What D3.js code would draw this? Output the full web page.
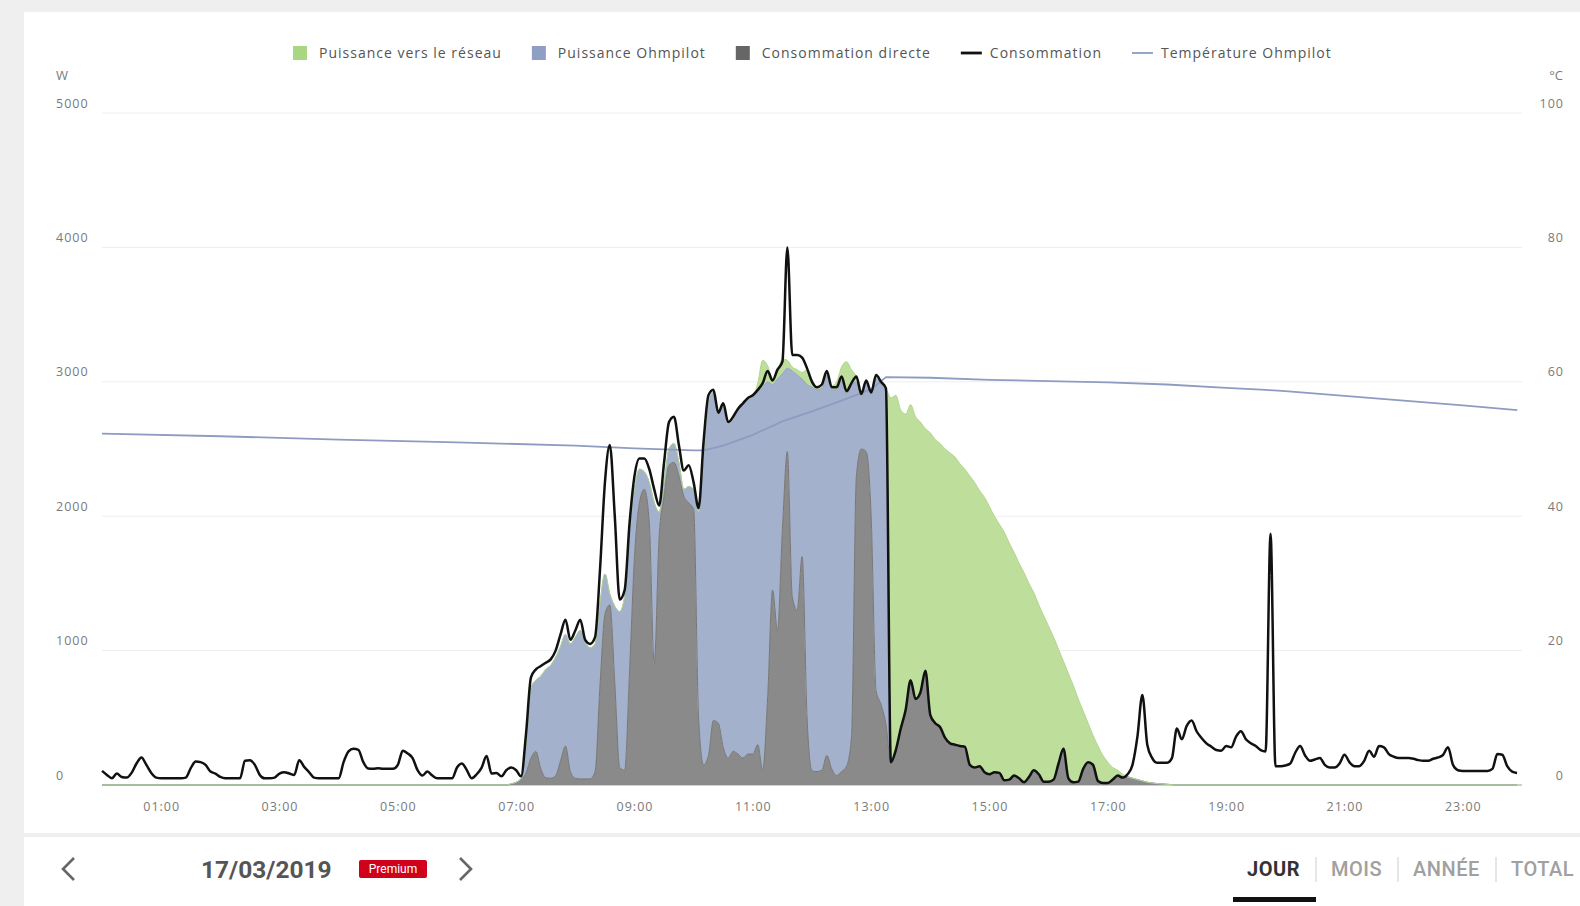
<!DOCTYPE html>
<html>
<head>
<meta charset="utf-8">
<script src="https://cdn.jsdelivr.net/npm/d3@7"></script>
<style>
  html, body { margin: 0; padding: 0; background: #efefef; }
  svg { display: block; font-family: Roboto, "Open Sans", "Liberation Sans", sans-serif; }
</style>
</head>
<body>
<svg id="chart" width="1580" height="906"></svg>
<script>
// ---- Data: 17/03/2019, one value every 5 minutes (00:00 ... 23:55), in W ----
const STEP_MINUTES = 5;

// Total household consumption (black line)
const consommation = [
  105, 75, 50, 85, 60, 55, 90, 160, 205, 150, 90, 55,
  50, 50, 50, 50, 50, 55, 125, 175, 170, 150, 100, 85,
  60, 50, 50, 50, 50, 180, 185, 150, 75, 50, 50, 55,
  85, 95, 85, 75, 185, 135, 95, 55, 50, 50, 50, 50,
  50, 170, 250, 270, 262, 170, 122, 120, 125, 120, 120, 120,
  150, 255, 235, 200, 110, 70, 100, 70, 50, 50, 50, 50,
  130, 160, 110, 50, 80, 130, 215, 85, 90, 65, 110, 130,
  110, 65, 380, 800, 860, 885, 910, 935, 1000, 1120, 1230, 1080,
  1150, 1230, 1080, 1050, 1100, 1600, 2250, 2530, 2000, 1380, 1450, 1950,
  2300, 2430, 2430, 2350, 2200, 2080, 2400, 2700, 2740, 2530, 2340, 2380,
  2250, 2060, 2550, 2900, 2940, 2770, 2840, 2700, 2740, 2800, 2840, 2880,
  2900, 2940, 2990, 3080, 3010, 3090, 3150, 4000, 3200, 3200, 3180, 3100,
  3000, 2960, 2980, 3080, 2960, 2960, 3040, 2930, 2990, 3040, 2910, 3010,
  2920, 3050, 3000, 2950, 170, 260, 420, 560, 780, 640, 690, 850,
  520, 460, 430, 350, 310, 300, 290, 285, 150, 130, 140, 95,
  80, 95, 90, 35, 40, 70, 50, 20, 60, 110, 80, 25,
  25, 40, 160, 270, 50, 20, 25, 120, 170, 150, 30, 15,
  15, 40, 70, 55, 80, 150, 360, 670, 300, 200, 165, 165,
  165, 200, 420, 340, 440, 480, 400, 350, 310, 285, 260, 255,
  290, 280, 360, 400, 340, 310, 290, 260, 250, 1870, 140, 140,
  145, 160, 240, 290, 220, 180, 190, 200, 150, 130, 130, 160,
  225, 170, 140, 140, 180, 255, 210, 290, 280, 230, 210, 200,
  200, 200, 195, 185, 180, 180, 195, 205, 225, 280, 150, 110,
  105, 105, 105, 105, 105, 105, 120, 230, 225, 140, 100, 90
];

// PV power used directly in the house (dark grey, bottom of the stack)
const consommationDirecte = [
  0, 0, 0, 0, 0, 0, 0, 0, 0, 0, 0, 0,
  0, 0, 0, 0, 0, 0, 0, 0, 0, 0, 0, 0,
  0, 0, 0, 0, 0, 0, 0, 0, 0, 0, 0, 0,
  0, 0, 0, 0, 0, 0, 0, 0, 0, 0, 0, 0,
  0, 0, 0, 0, 0, 0, 0, 0, 0, 0, 0, 0,
  0, 0, 0, 0, 0, 0, 0, 0, 0, 0, 0, 0,
  0, 0, 0, 0, 0, 0, 0, 0, 0, 0, 0, 5,
  20, 40, 90, 200, 250, 120, 55, 50, 70, 180, 290, 100,
  50, 45, 45, 45, 100, 740, 1270, 1340, 760, 130, 110, 850,
  1700, 2100, 2200, 1950, 900, 1850, 2150, 2380, 2400, 2300, 2150, 2100,
  2050, 500, 150, 220, 480, 460, 280, 200, 250, 230, 200, 230,
  230, 300, 110, 650, 1450, 1150, 1900, 2480, 1400, 1300, 1700, 500,
  105, 100, 110, 220, 120, 70, 100, 140, 350, 2300, 2500, 2480,
  2000, 700, 600, 450, 170, 260, 420, 560, 780, 640, 690, 850,
  520, 460, 430, 350, 310, 300, 290, 285, 150, 130, 140, 95,
  80, 95, 90, 35, 40, 70, 50, 20, 60, 110, 80, 25,
  25, 40, 160, 270, 50, 20, 25, 120, 170, 150, 30, 15,
  15, 40, 70, 55, 60, 50, 40, 30, 20, 15, 10, 8,
  5, 3, 0, 0, 0, 0, 0, 0, 0, 0, 0, 0,
  0, 0, 0, 0, 0, 0, 0, 0, 0, 0, 0, 0,
  0, 0, 0, 0, 0, 0, 0, 0, 0, 0, 0, 0,
  0, 0, 0, 0, 0, 0, 0, 0, 0, 0, 0, 0,
  0, 0, 0, 0, 0, 0, 0, 0, 0, 0, 0, 0,
  0, 0, 0, 0, 0, 0, 0, 0, 0, 0, 0, 0
];

// PV power sent to the Ohmpilot water heater (blue, middle of the stack)
const puissanceOhmpilot = [
  0, 0, 0, 0, 0, 0, 0, 0, 0, 0, 0, 0,
  0, 0, 0, 0, 0, 0, 0, 0, 0, 0, 0, 0,
  0, 0, 0, 0, 0, 0, 0, 0, 0, 0, 0, 0,
  0, 0, 0, 0, 0, 0, 0, 0, 0, 0, 0, 0,
  0, 0, 0, 0, 0, 0, 0, 0, 0, 0, 0, 0,
  0, 0, 0, 0, 0, 0, 0, 0, 0, 0, 0, 0,
  0, 0, 0, 0, 0, 0, 0, 0, 0, 0, 0, 5,
  0, 10, 210, 520, 530, 690, 805, 840, 880, 850, 830, 950,
  1050, 1105, 1015, 975, 950, 610, 300, 80, 570, 1160, 1290, 1050,
  500, 250, 130, 300, 1200, 180, 100, 120, 140, 100, 50, 120,
  150, 1530, 2300, 2630, 2440, 2300, 2540, 2490, 2480, 2560, 2630, 2640,
  2660, 2630, 2850, 2350, 1530, 1870, 1160, 620, 1680, 1750, 1320, 2480,
  2855, 2840, 2840, 2830, 2820, 2870, 2910, 2770, 2620, 700, 390, 510,
  900, 2320, 2380, 2470, 0, 0, 0, 0, 0, 0, 0, 0,
  0, 0, 0, 0, 0, 0, 0, 0, 0, 0, 0, 0,
  0, 0, 0, 0, 0, 0, 0, 0, 0, 0, 0, 0,
  0, 0, 0, 0, 0, 0, 0, 0, 0, 0, 0, 0,
  0, 0, 0, 0, 0, 0, 0, 0, 0, 0, 0, 0,
  0, 0, 0, 0, 0, 0, 0, 0, 0, 0, 0, 0,
  0, 0, 0, 0, 0, 0, 0, 0, 0, 0, 0, 0,
  0, 0, 0, 0, 0, 0, 0, 0, 0, 0, 0, 0,
  0, 0, 0, 0, 0, 0, 0, 0, 0, 0, 0, 0,
  0, 0, 0, 0, 0, 0, 0, 0, 0, 0, 0, 0,
  0, 0, 0, 0, 0, 0, 0, 0, 0, 0, 0, 0
];

// PV power fed into the grid (green, top of the stack)
const puissanceReseau = [
  0, 0, 0, 0, 0, 0, 0, 0, 0, 0, 0, 0,
  0, 0, 0, 0, 0, 0, 0, 0, 0, 0, 0, 0,
  0, 0, 0, 0, 0, 0, 0, 0, 0, 0, 0, 0,
  0, 0, 0, 0, 0, 0, 0, 0, 0, 0, 0, 0,
  0, 0, 0, 0, 0, 0, 0, 0, 0, 0, 0, 0,
  0, 0, 0, 0, 0, 0, 0, 0, 0, 0, 0, 0,
  0, 0, 0, 0, 0, 0, 0, 0, 0, 0, 0, 0,
  0, 0, 0, 0, 0, 0, 0, 0, 0, 0, 0, 0,
  0, 0, 0, 0, 0, 0, 0, 0, 0, 0, 0, 0,
  0, 0, 0, 0, 0, 0, 0, 0, 0, 0, 0, 0,
  0, 0, 0, 0, 0, 0, 0, 0, 0, 0, 0, 0,
  0, 60, 200, 120, 40, 60, 110, 60, 30, 40, 50, 110,
  60, 20, 20, 0, 30, 60, 100, 240, 120, 40, 40, 10,
  20, 20, 20, 30, 2710, 2640, 2370, 2200, 2050, 2100, 2010, 1800,
  2100, 2110, 2110, 2150, 2160, 2140, 2100, 2065, 2150, 2120, 2050, 2045,
  1990, 1905, 1850, 1845, 1760, 1660, 1600, 1560, 1440, 1320, 1260, 1235,
  1155, 1060, 850, 650, 780, 720, 615, 430, 290, 220, 260, 205,
  155, 90, 40, 25, 0, 0, 0, 0, 0, 0, 0, 0,
  0, 0, 0, 0, 0, 0, 0, 0, 0, 0, 0, 0,
  0, 0, 0, 0, 0, 0, 0, 0, 0, 0, 0, 0,
  0, 0, 0, 0, 0, 0, 0, 0, 0, 0, 0, 0,
  0, 0, 0, 0, 0, 0, 0, 0, 0, 0, 0, 0,
  0, 0, 0, 0, 0, 0, 0, 0, 0, 0, 0, 0,
  0, 0, 0, 0, 0, 0, 0, 0, 0, 0, 0, 0
];

// Ohmpilot water temperature (°C), hour of day -> value
const temperatureHours  = [0, 2, 4, 6, 8, 9, 10, 10.17, 10.5, 11, 11.5, 12, 12.5, 13, 13.25, 14, 15, 16, 17, 18, 19, 19.67, 20, 21, 22, 23, 23.92];
const temperatureValues = [52.3, 51.9, 51.4, 51.0, 50.5, 50.1, 49.8, 49.8, 50.5, 52.1, 54.1, 55.6, 57.2, 58.9, 60.7, 60.6, 60.3, 60.1, 59.9, 59.6, 59.1, 58.8, 58.6, 57.9, 57.2, 56.5, 55.8];

// Axis ticks
const powerTicks = [0, 1000, 2000, 3000, 4000, 5000];
const tempTicks = [0, 20, 40, 60, 80, 100];
const hourTicks = [1, 3, 5, 7, 9, 11, 13, 15, 17, 19, 21, 23];
const hourTickLabels = ['01:00', '03:00', '05:00', '07:00', '09:00', '11:00', '13:00', '15:00', '17:00', '19:00', '21:00', '23:00'];

// Legend
const legendItems = [
  { label: 'Puissance vers le réseau', type: 'square', color: '#a8d683' },
  { label: 'Puissance Ohmpilot', type: 'square', color: '#8f9fc4' },
  { label: 'Consommation directe', type: 'square', color: '#666666' },
  { label: 'Consommation', type: 'line', color: '#111111' },
  { label: 'Température Ohmpilot', type: 'line', color: '#8d9cc0' }
];

// Bottom navigation
const dateLabel = '17/03/2019';
const periodTabs = ['JOUR', 'MOIS', 'ANNÉE', 'TOTAL'];

// ---- Drawing ----
const WIDTH = 1580, HEIGHT = 906;
const svg = d3.select('#chart');
const LABEL_FONT = '"Open Sans", Roboto, sans-serif';

// page background and white cards
svg.append('rect').attr('width', WIDTH).attr('height', HEIGHT).attr('fill', '#efefef');
svg.append('rect').attr('x', 24).attr('y', 12).attr('width', WIDTH - 24).attr('height', 821).attr('fill', '#ffffff');
svg.append('rect').attr('x', 24).attr('y', 837).attr('width', WIDTH - 24).attr('height', HEIGHT - 837).attr('fill', '#ffffff');

const x = d3.scaleLinear().domain([0, 24]).range([102, 1522]);
const yPower = d3.scaleLinear().domain([0, 5000]).range([785, 113]);
const yTemp = d3.scaleLinear().domain([0, 100]).range([785, 113]);

// horizontal grid
svg.append('g').selectAll('line')
  .data(powerTicks)
  .join('line')
  .attr('x1', x(0)).attr('x2', x(24))
  .attr('y1', d => yPower(d)).attr('y2', d => yPower(d))
  .attr('stroke', d => d === 0 ? '#cfcfcf' : '#eeeeee')
  .attr('stroke-width', d => d === 0 ? 2 : 1);

// stacked production areas
const rows = consommation.map((c, i) => ({
  hour: i * STEP_MINUTES / 60,
  directe: consommationDirecte[i],
  ohmpilot: puissanceOhmpilot[i],
  reseau: puissanceReseau[i]
}));
const layers = d3.stack().keys(['directe', 'ohmpilot', 'reseau'])(rows);
const fills = { directe: '#8a8a8a', ohmpilot: '#a4b1cc', reseau: '#bedf9b' };
const edges = { directe: '#777777', ohmpilot: '#93a2c2', reseau: '#b1d68c' };

const area = d3.area()
  .x(d => x(d.data.hour))
  .y0(d => yPower(d[0]))
  .y1(d => yPower(d[1]))
  .curve(d3.curveMonotoneX);
const areaTop = d3.line()
  .x(d => x(d.data.hour))
  .y(d => yPower(d[1]))
  .curve(d3.curveMonotoneX);

const areaG = svg.append('g');
layers.slice().reverse().forEach(layer => {
  areaG.append('path').attr('d', area(layer)).attr('fill', fills[layer.key]);
});
layers.forEach(layer => {
  areaG.append('path').attr('d', areaTop(layer)).attr('fill', 'none')
    .attr('stroke', edges[layer.key]).attr('stroke-width', 1);
});

// temperature line
const tempLine = d3.line()
  .x((d, i) => x(temperatureHours[i]))
  .y(d => yTemp(d));
svg.append('path')
  .attr('d', tempLine(temperatureValues))
  .attr('fill', 'none')
  .attr('stroke', '#8d9cc0')
  .attr('stroke-width', 1.8);

// consumption line
const consLine = d3.line()
  .x((d, i) => x(i * STEP_MINUTES / 60))
  .y(d => yPower(d))
  .curve(d3.curveMonotoneX);
svg.append('path')
  .attr('d', consLine(consommation))
  .attr('fill', 'none')
  .attr('stroke', '#111111')
  .attr('stroke-width', 2.5)
  .attr('stroke-linejoin', 'round');

// axes (labels only)
const axisText = g => {
  g.select('.domain').remove();
  g.selectAll('text')
    .attr('fill', '#7a7a7a')
    .attr('font-family', LABEL_FONT)
    .attr('font-size', 12.5)
    .attr('letter-spacing', 1);
};
svg.append('g')
  .attr('transform', 'translate(56,-10)')
  .call(d3.axisRight(yPower).tickValues(powerTicks).tickSize(0).tickPadding(0).tickFormat(d3.format('d')))
  .call(axisText);
svg.append('g')
  .attr('transform', 'translate(1564,-10)')
  .call(d3.axisLeft(yTemp).tickValues(tempTicks).tickSize(0).tickPadding(0).tickFormat(d3.format('d')))
  .call(axisText);
svg.append('g')
  .attr('transform', 'translate(0,807)')
  .call(d3.axisBottom(x).tickValues(hourTicks).tickSize(0).tickPadding(0).tickFormat((d, i) => hourTickLabels[i]))
  .call(axisText)
  .call(g => g.selectAll('text').attr('dy', '0.32em'));

// unit labels
svg.append('text').attr('x', 56).attr('y', 75).attr('dy', '0.35em')
  .attr('font-family', LABEL_FONT).attr('fill', '#7a7a7a').attr('font-size', 13).text('W');
svg.append('text').attr('x', 1563).attr('y', 75).attr('dy', '0.35em').attr('text-anchor', 'end')
  .attr('font-family', LABEL_FONT).attr('fill', '#7a7a7a').attr('font-size', 13).text('°C');

// legend
const legend = svg.append('g')
  .attr('font-family', LABEL_FONT).attr('font-size', 14).attr('letter-spacing', 1);
let lx = 293;
const ly = 53;
legendItems.forEach(item => {
  if (item.type === 'square') {
    legend.append('rect').attr('x', lx).attr('y', ly - 7).attr('width', 14).attr('height', 14).attr('fill', item.color);
    lx += 14 + 12;
  } else {
    legend.append('line').attr('x1', lx).attr('x2', lx + 21).attr('y1', ly).attr('y2', ly)
      .attr('stroke', item.color).attr('stroke-width', item.label === 'Consommation' ? 2.8 : 1.8);
    lx += 21 + 8;
  }
  const t = legend.append('text').attr('x', lx).attr('y', ly).attr('dy', '0.35em').attr('fill', '#555').text(item.label);
  lx += t.node().getComputedTextLength() + 30;
});

// bottom navigation
const nav = svg.append('g');
nav.append('path').attr('d', 'M74,858 L63,869 L74,880').attr('fill', 'none')
  .attr('stroke', '#666').attr('stroke-width', 2.6);
nav.append('path').attr('d', 'M460,858 L471,869 L460,880').attr('fill', 'none')
  .attr('stroke', '#666').attr('stroke-width', 2.6);
nav.append('text').attr('x', 201).attr('y', 869).attr('dy', '0.35em')
  .attr('font-size', 24.5).attr('font-weight', 700).attr('fill', '#555').text(dateLabel);
nav.append('rect').attr('x', 359).attr('y', 860).attr('width', 68).attr('height', 18).attr('rx', 2).attr('fill', '#d0021b');
nav.append('text').attr('x', 393).attr('y', 869).attr('dy', '0.35em').attr('text-anchor', 'middle')
  .attr('font-size', 12).attr('fill', '#fff').text('Premium');

const tabX = [1247, 1331, 1413, 1511];
const sepX = [1316, 1398, 1496];
periodTabs.forEach((tab, i) => {
  nav.append('text').attr('x', tabX[i]).attr('y', 869).attr('dy', '0.35em')
    .attr('font-size', 20).attr('font-weight', i === 0 ? 700 : 500)
    .attr('letter-spacing', 0.5)
    .attr('fill', i === 0 ? '#333' : '#a0a0a0').text(tab);
});
sepX.forEach(sx => {
  nav.append('line').attr('x1', sx).attr('x2', sx).attr('y1', 857).attr('y2', 882)
    .attr('stroke', '#d5d5d5').attr('stroke-width', 1.2);
});
nav.append('rect').attr('x', 1233).attr('y', 897).attr('width', 83).attr('height', 5).attr('fill', '#111');
</script>
</body>
</html>
